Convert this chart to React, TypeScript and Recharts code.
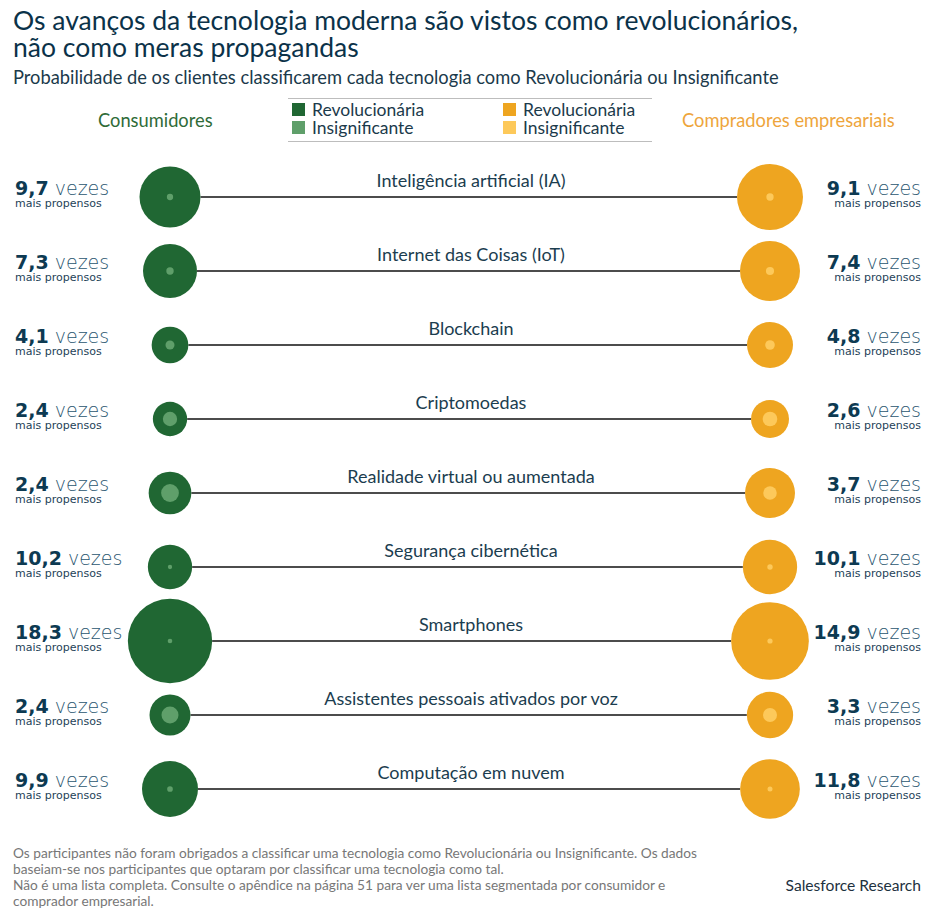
import React from 'react';
import { ScatterChart, Scatter, XAxis, YAxis, ReferenceLine } from 'recharts';

// technologies, top to bottom
const technologies = [
  'Inteligência artificial (IA)',
  'Internet das Coisas (IoT)',
  'Blockchain',
  'Criptomoedas',
  'Realidade virtual ou aumentada',
  'Segurança cibernética',
  'Smartphones',
  'Assistentes pessoais ativados por voz',
  'Computação em nuvem',
];

// % classifying as revolucionária / insignificante (bubble diameter)
const consumerRevolutionary = [61, 54, 36.7, 34.3, 42.7, 44.3, 84.3, 41, 56];
const consumerInsignificant = [6.3, 7.4, 9, 14.3, 17.8, 4.3, 4.6, 17, 5.7];
const consumerTimes = ['9,7', '7,3', '4,1', '2,4', '2,4', '10,2', '18,3', '2,4', '9,9'];

const businessRevolutionary = [66, 60, 46, 38, 50, 54.3, 77.7, 46.3, 59.7];
const businessInsignificant = [7.3, 8.1, 9.6, 14.6, 13.5, 5.4, 5.2, 14, 5];
const businessTimes = ['9,1', '7,4', '4,8', '2,6', '3,7', '10,1', '14,9', '3,3', '11,8'];

const CONS_X = 170;
const BUS_X = 770;
const MID_X = 471;
const PX = 1; // px of diameter per percentage point

const GREEN = '#206733';
const GREEN_LIGHT = '#5f9f6a';
const ORANGE = '#eea520';
const ORANGE_LIGHT = '#fdc95a';
const NAVY = '#0d3a52';

const SANS = "Lato, 'Open Sans', sans-serif";
const NUM = "'DejaVu Sans', sans-serif";

const consumerData = technologies.map((t, i) => ({
  x: CONS_X, y: i, rev: consumerRevolutionary[i], ins: consumerInsignificant[i], times: consumerTimes[i],
}));
const businessData = technologies.map((t, i) => ({
  x: BUS_X, y: i, rev: businessRevolutionary[i], ins: businessInsignificant[i], times: businessTimes[i],
}));
const labelData = technologies.map((t, i) => ({ x: MID_X, y: i, name: t }));

const makeBubble = (side: 'left' | 'right') => (props: any) => {
  const { cx, cy, payload } = props;
  const outer = side === 'left' ? GREEN : ORANGE;
  const inner = side === 'left' ? GREEN_LIGHT : ORANGE_LIGHT;
  const tx = side === 'left' ? 15 : 921;
  const anchor = side === 'left' ? 'start' : 'end';
  return (
    <g>
      <circle cx={cx} cy={cy} r={(payload.rev * PX) / 2} fill={outer} />
      <circle cx={cx} cy={cy} r={(payload.ins * PX) / 2} fill={inner} />
      <text x={tx} y={cy - 2} textAnchor={anchor} fontFamily={NUM} fontSize={19}>
        <tspan fontWeight={700} fill={NAVY}>{payload.times}</tspan>
        <tspan fontWeight={200} fill="#2a5670"> vezes</tspan>
      </text>
      <text x={tx} y={cy + 10} textAnchor={anchor} fontFamily={NUM} fontSize={11} fill="#1e4258">
        mais propensos
      </text>
    </g>
  );
};

const RowLabel = (props: any) => {
  const { cx, cy, payload } = props;
  return (
    <text x={cx} y={cy - 10} textAnchor="middle" fontFamily={SANS} fontSize={18} fill="#1b3d4f">
      {payload.name}
    </text>
  );
};

export default function App() {
  return (
    <div style={{ position: 'absolute', left: 0, top: 0, width: 935, height: 909, background: '#fff' }}>
      <svg width={935} height={909} style={{ position: 'absolute', left: 0, top: 0 }}>
        <text x={13} y={30} fontFamily={SANS} fontSize={26.5} fill="#0b3249">
          Os avanços da tecnologia moderna são vistos como revolucionários,
        </text>
        <text x={13} y={57} fontFamily={SANS} fontSize={26.5} fill="#0b3249">
          não como meras propagandas
        </text>
        <text x={13} y={84} fontFamily={SANS} fontSize={18.3} fill="#1b3a4b">
          Probabilidade de os clientes classificarem cada tecnologia como Revolucionária ou Insignificante
        </text>

        {/* legend */}
        <text x={98} y={127} fontFamily={SANS} fontSize={18.3} fill="#2f6b38">Consumidores</text>
        <text x={682} y={127} fontFamily={SANS} fontSize={18.3} fill="#eea53c">Compradores empresariais</text>
        <line x1={288} x2={652} y1={98.5} y2={98.5} stroke="#bdbdbd" />
        <line x1={288} x2={652} y1={141.5} y2={141.5} stroke="#bdbdbd" />
        <rect x={292} y={103} width={13} height={13} fill={GREEN} />
        <rect x={292} y={121} width={13} height={13} fill={GREEN_LIGHT} />
        <rect x={503} y={103} width={13} height={13} fill={ORANGE} />
        <rect x={503} y={121} width={13} height={13} fill={ORANGE_LIGHT} />
        <text x={312} y={116} fontFamily={SANS} fontSize={17.5} fill="#1b3a4b">Revolucionária</text>
        <text x={312} y={134} fontFamily={SANS} fontSize={17.5} fill="#1b3a4b">Insignificante</text>
        <text x={523} y={116} fontFamily={SANS} fontSize={17.5} fill="#1b3a4b">Revolucionária</text>
        <text x={523} y={134} fontFamily={SANS} fontSize={17.5} fill="#1b3a4b">Insignificante</text>

        {/* footnote */}
        <g fontFamily={SANS} fontSize={13.7} fill="#777">
          <text x={13} y={858}>
            Os participantes não foram obrigados a classificar uma tecnologia como Revolucionária ou Insignificante. Os dados
          </text>
          <text x={13} y={874}>baseiam-se nos participantes que optaram por classificar uma tecnologia como tal.</text>
          <text x={13} y={890}>
            Não é uma lista completa. Consulte o apêndice na página 51 para ver uma lista segmentada por consumidor e
          </text>
          <text x={13} y={906}>comprador empresarial.</text>
        </g>
        <text x={921} y={891} textAnchor="end" fontFamily={SANS} fontSize={15.6} fill="#1d3140">
          Salesforce Research
        </text>
      </svg>

      <div style={{ position: 'absolute', left: 0, top: 160 }}>
        <ScatterChart width={935} height={666} margin={{ top: 0, right: 0, bottom: 0, left: 0 }}>
          <XAxis type="number" dataKey="x" domain={[0, 935]} hide />
          <YAxis type="number" dataKey="y" domain={[-0.5, 8.5]} reversed hide />
          {technologies.map((t, i) => (
            <ReferenceLine
              key={t}
              segment={[
                { x: CONS_X + (consumerRevolutionary[i] * PX) / 2, y: i },
                { x: BUS_X - (businessRevolutionary[i] * PX) / 2, y: i },
              ]}
              stroke="#111"
              strokeWidth={1.5}
            />
          ))}
          <Scatter data={labelData} shape={RowLabel} isAnimationActive={false} />
          <Scatter data={consumerData} shape={makeBubble('left')} isAnimationActive={false} />
          <Scatter data={businessData} shape={makeBubble('right')} isAnimationActive={false} />
        </ScatterChart>
      </div>
    </div>
  );
}
